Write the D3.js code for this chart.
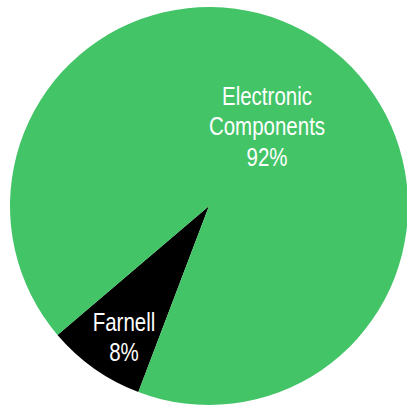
<!DOCTYPE html>
<html><head><meta charset="utf-8">
<script src="https://cdn.jsdelivr.net/npm/d3@7"></script>
<style>html,body{margin:0;padding:0;background:#fff;}</style>
</head><body>
<script>
const categories = ["Farnell", "Electronic Components"];
const values = [8, 92];
const labelLines = [["Farnell", "8%"], ["Electronic", "Components", "92%"]];
const colors = ["#000000", "#42C467"];

const W = 407, H = 406;
const cx = 209, cy = 206, R = 199;
const svg = d3.select("body").append("svg").attr("width", W).attr("height", H);
const g = svg.append("g").attr("transform", `translate(${cx},${cy})`);

const start = 200.8 * Math.PI / 180;
const pie = d3.pie().sort(null).value(d => d).startAngle(start).endAngle(start + 2 * Math.PI);
const arcs = pie(values);
const arc = d3.arc().innerRadius(0).outerRadius(R);

g.selectAll("path").data(arcs).enter().append("path")
  .attr("d", arc).attr("fill", (d, i) => colors[i]);

// label anchor positions (relative to center)
const labelPos = [[-85, 125], [58, -101]];
const lh = 30.4;
const font = "'Liberation Sans', Arial, sans-serif";
labelLines.forEach((lines, i) => {
  const lg = g.append("g")
    .attr("transform", `translate(${labelPos[i][0]},${labelPos[i][1]}) scale(0.82,1)`);
  const t = lg.append("text").attr("text-anchor", "middle")
    .attr("font-family", font).attr("font-size", 25).attr("fill", "#fff");
  lines.forEach((s, j) => {
    t.append("tspan").attr("x", 0).attr("y", j * lh).text(s);
  });
});
</script>
</body></html>
